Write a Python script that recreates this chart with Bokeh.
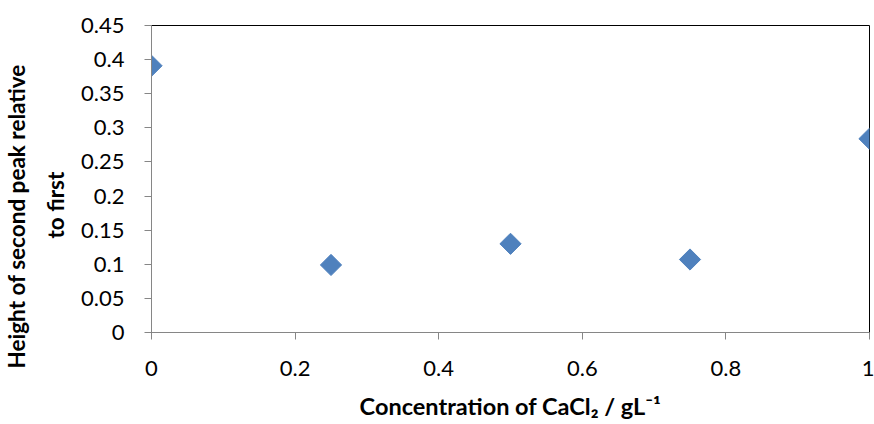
import math
from bokeh.plotting import figure
from bokeh.models import Title, FixedTicker
from bokeh.embed import file_html
from bokeh.resources import INLINE

# data
conc = [0.0, 0.25, 0.5, 0.75, 1.0]
ratio = [0.391, 0.099, 0.130, 0.107, 0.284]

x_ticks = [0, 0.2, 0.4, 0.6, 0.8, 1.0]
x_tick_labels = ["0", "0.2", "0.4", "0.6", "0.8", "1"]
y_ticks = [0, 0.05, 0.1, 0.15, 0.2, 0.25, 0.3, 0.35, 0.4, 0.45]
y_tick_labels = ["0", "0.05", "0.1", "0.15", "0.2", "0.25", "0.3", "0.35", "0.4", "0.45"]

x_title = "Concentration of CaCl\u2082 / gL\u207b\u00b9"
y_title_1 = "Height of second peak relative"
y_title_2 = "to first"

W, H = 874, 424
FONT = "Lato"

p = figure(width=W, height=H, output_backend="svg", toolbar_location=None,
           x_range=(0, 1), y_range=(0, 0.45),
           min_border_left=150, min_border_right=5, min_border_top=25, min_border_bottom=92)

p.grid.visible = False
p.outline_line_color = "black"
p.outline_line_width = 1
p.background_fill_color = "white"
p.border_fill_color = "white"

for ax, ticks, labels in ((p.xaxis[0], x_ticks, x_tick_labels), (p.yaxis[0], y_ticks, y_tick_labels)):
    ax.ticker = FixedTicker(ticks=ticks)
    ax.major_label_overrides = {t: l for t, l in zip(ticks, labels)}
    ax.axis_line_color = "#868686"
    ax.major_tick_line_color = "#868686"
    ax.minor_tick_line_color = None
    ax.major_tick_in = 0
    ax.major_tick_out = 7
    ax.major_label_text_font = FONT
    ax.major_label_text_font_size = "22px"
    ax.major_label_text_color = "black"

p.yaxis.major_label_standoff = 20
p.xaxis.major_label_standoff = 21

p.xaxis.axis_label = x_title
p.xaxis.axis_label_text_font = FONT
p.xaxis.axis_label_text_font_style = "bold"
p.xaxis.axis_label_text_font_size = "23.5px"
p.xaxis.axis_label_text_color = "black"
p.xaxis.axis_label_standoff = 13

p.scatter(conc, ratio, marker="square", size=15, angle=math.pi / 4,
          fill_color="#4F81BD", line_color="#4F81BD")

# y title: two lines as left-side titles (inner line first)
t2 = Title(text=y_title_2, align="left", offset=94, text_font=FONT, text_font_style="bold",
           text_font_size="22.5px", text_color="black", standoff=20)
t1 = Title(text=y_title_1, align="left", offset=-36, text_font=FONT, text_font_style="bold",
           text_font_size="22.5px", text_color="black", standoff=0)
p.add_layout(t2, "left")
p.add_layout(t1, "left")

open("out.html", "w").write(file_html(p, INLINE))
